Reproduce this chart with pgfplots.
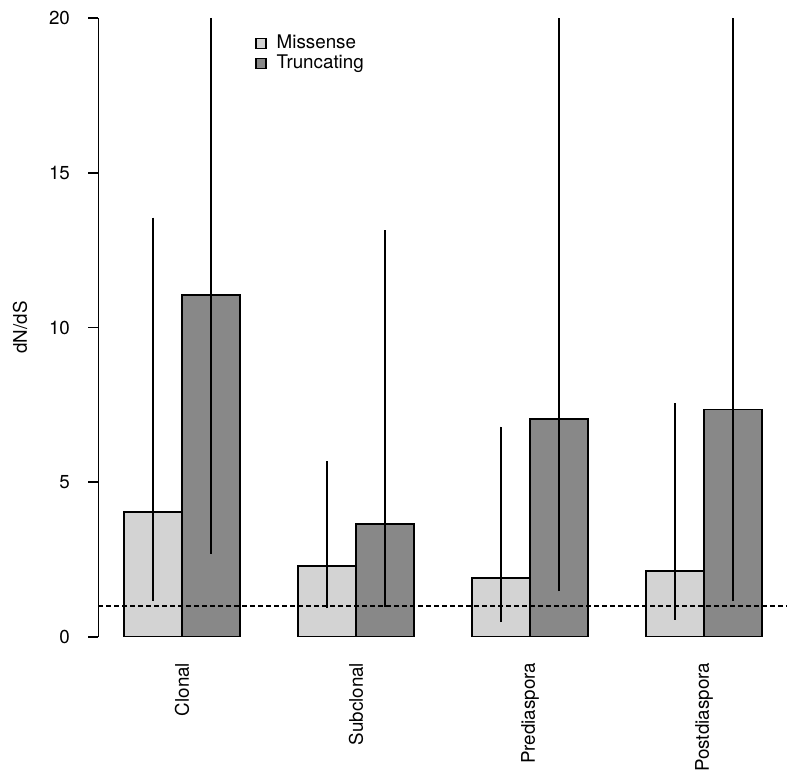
\documentclass[border=0pt]{standalone}
\usepackage{fontspec}
\setmainfont{TeX Gyre Heros}
\usepackage{pgfplots}
\usepackage{pgfplotstable}
\pgfplotsset{compat=1.18}
\definecolor{misc}{HTML}{D3D3D3}
\definecolor{trunc}{HTML}{888888}
\pgfplotstableread{
x y lo hi
1.5 4.05 1.16 13.55
4.5 2.29 0.94 5.68
7.5 1.90 0.48 6.80
10.5 2.13 0.55 7.56
}\missense
\pgfplotstableread{
x y lo hi
2.5 11.05 2.68 20
5.5 3.65 0.97 13.15
8.5 7.05 1.48 20
11.5 7.35 1.16 20
}\truncating
\newcommand{\lbl}{\fontsize{9.4}{11}\selectfont}
\begin{document}
\begin{tikzpicture}
\path[use as bounding box] (0,0) rectangle (400pt,391pt);
\begin{axis}[
  at={(49.25pt,72.5pt)}, anchor=south west,
  scale only axis, width=344.5pt, height=309.5pt,
  xmin=0.56, xmax=12.44, ymin=0, ymax=20,
  axis lines=left,
  axis line style={-, line width=0.9pt, black},
  x axis line style={draw=none},
  xtick={2,5,8,11},
  xticklabels={Clonal,Subclonal,Prediaspora,Postdiaspora},
  x tick style={draw=none},
  xticklabel style={rotate=90, anchor=east, font=\lbl},
  xticklabel shift=4.4pt,
  ytick={0,5,10,15,20},
  yticklabels={0,5,10,15,20},
  yticklabel style={font=\lbl},
  yticklabel shift=5.75pt,
  tick align=outside,
  major tick length=5pt,
  y tick style={line width=0.9pt, black},
  ylabel={dN/dS},
  ylabel style={at={(axis description cs:-0.114,0.5)}, anchor=center, font=\lbl},
  clip mode=individual,
  legend style={draw=none, fill=none, at={(axis cs:3.26,19.52)}, anchor=north west,
    inner sep=0pt, font=\lbl, row sep=0pt,
    nodes={inner sep=0.5pt, text height=7pt, text depth=2pt},
    /tikz/every odd column/.append style={column sep=4.5pt}},
  legend cell align=left,
]
\addplot[ybar, bar width=1, bar shift=0pt, fill=misc, draw=black, line width=0.9pt,
  legend image code/.code={\draw[/tikz/.cd, fill=misc, draw=black, line width=0.6pt] (0pt,-2.5pt) rectangle (5pt,2.5pt);},
  error bars/.cd, y dir=both, y explicit, error mark=none,
  error bar style={line width=1pt, black, solid}]
  table[x=x, y=y, y error plus expr=\thisrow{hi}-\thisrow{y}, y error minus expr=\thisrow{y}-\thisrow{lo}] {\missense};
\addplot[ybar, bar width=1, bar shift=0pt, fill=trunc, draw=black, line width=0.9pt,
  legend image code/.code={\draw[/tikz/.cd, fill=trunc, draw=black, line width=0.6pt] (0pt,-2.5pt) rectangle (5pt,2.5pt);},
  error bars/.cd, y dir=both, y explicit, error mark=none,
  error bar style={line width=1pt, black, solid}]
  table[x=x, y=y, y error plus expr=\thisrow{hi}-\thisrow{y}, y error minus expr=\thisrow{y}-\thisrow{lo}] {\truncating};
\addplot[black, line width=0.85pt, dash pattern=on 2.2pt off 1.8pt, forget plot] coordinates {(0.56,1) (12.44,1)};
\legend{Missense, Truncating}
\end{axis}
\end{tikzpicture}
\end{document}
